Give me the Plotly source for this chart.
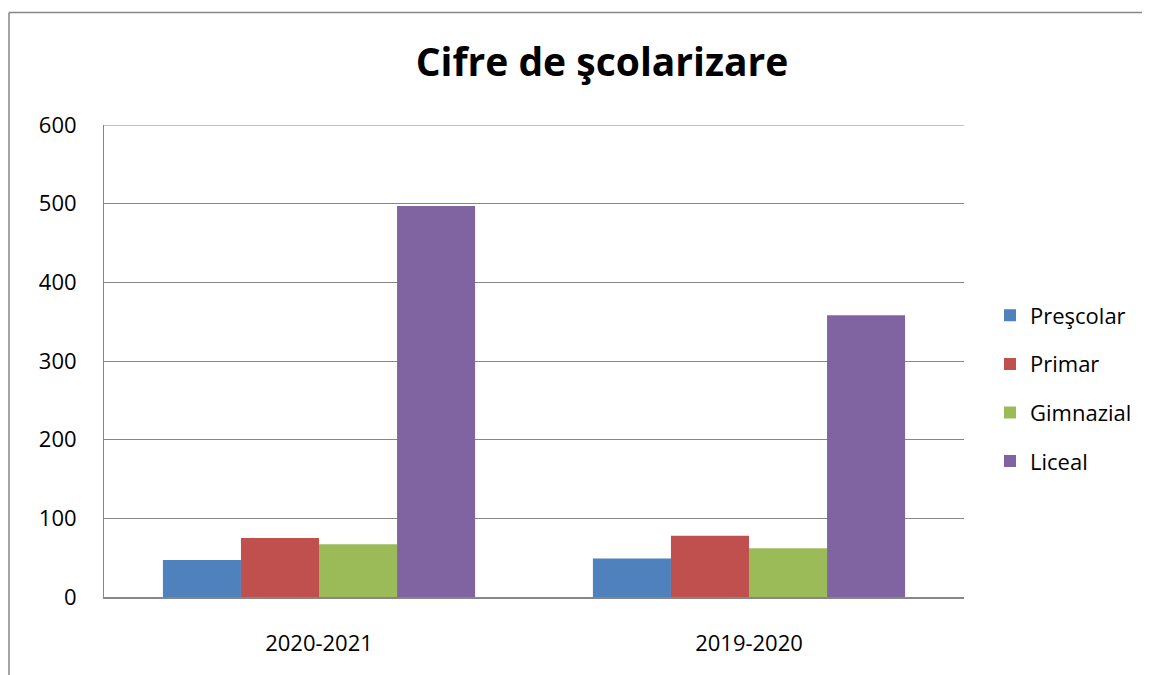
import plotly.graph_objects as go

categories = ["2020-2021", "2019-2020"]
series_names = ["Preşcolar", "Primar", "Gimnazial", "Liceal"]
prescolar = [47, 49]
primar = [75, 78]
gimnazial = [67, 62]
liceal = [497, 358]
colors = ["#4F81BD", "#C0504D", "#9BBB59", "#8064A2"]

values = [prescolar, primar, gimnazial, liceal]

fig = go.Figure()
for name, vals, col in zip(series_names, values, colors):
    fig.add_trace(go.Bar(x=categories, y=vals, name=name, marker_color=col,
                         marker_line_width=0, legendgroup=name))

font_family = "Open Sans, Noto Sans, DejaVu Sans, sans-serif"

# plot area (in figure pixels): left 96, top 117, width 860, height 472
L, T, W, H = 96, 117, 860, 472
FW, FH = 1150, 675

fig.update_layout(
    width=FW, height=FH,
    margin=dict(l=L, r=FW - L - W, t=T, b=FH - T - H),
    paper_bgcolor="white", plot_bgcolor="white",
    barmode="group", bargap=0.274, bargroupgap=0,
    title=dict(text="<b>Cifre de şcolarizare</b>", x=594 / FW, xanchor="center",
               y=1 - 54 / FH, yanchor="middle",
               font=dict(family=font_family, size=39, color="black")),
    legend=dict(x=(982 - L) / W, xanchor="left", y=(T + H - 380.5) / H, yanchor="middle",
                font=dict(family=font_family, size=22, color="black"),
                tracegroupgap=17, traceorder="grouped", itemwidth=30),
    showlegend=True,
)
fig.update_yaxes(range=[0, 600], dtick=100, showgrid=True, gridcolor="#868686",
                 gridwidth=1, showline=True, linecolor="#868686", linewidth=1,
                 ticks="",
                 tickfont=dict(family=font_family, size=22, color="black"),
                 ticklabelstandoff=22, zeroline=False)
fig.update_xaxes(showline=True, linecolor="#868686", linewidth=1.5,
                 tickfont=dict(family=font_family, size=22, color="black"),
                 ticklabelstandoff=26)

# top gridline at 600
fig.add_shape(type="line", xref="paper", yref="y", x0=0, x1=1, y0=600, y1=600,
              line=dict(color="#868686", width=1))

# chart frame
x_left = (1 - L) / W
y_top = 1 + (T - 4.5) / H
fig.add_shape(type="line", xref="paper", yref="paper", x0=x_left, x1=x_left,
              y0=-0.5, y1=y_top, line=dict(color="#868686", width=1.5))
fig.add_shape(type="line", xref="paper", yref="paper", x0=x_left, x1=1.5,
              y0=y_top, y1=y_top, line=dict(color="#868686", width=1.5))

fig.write_html("out.html")
